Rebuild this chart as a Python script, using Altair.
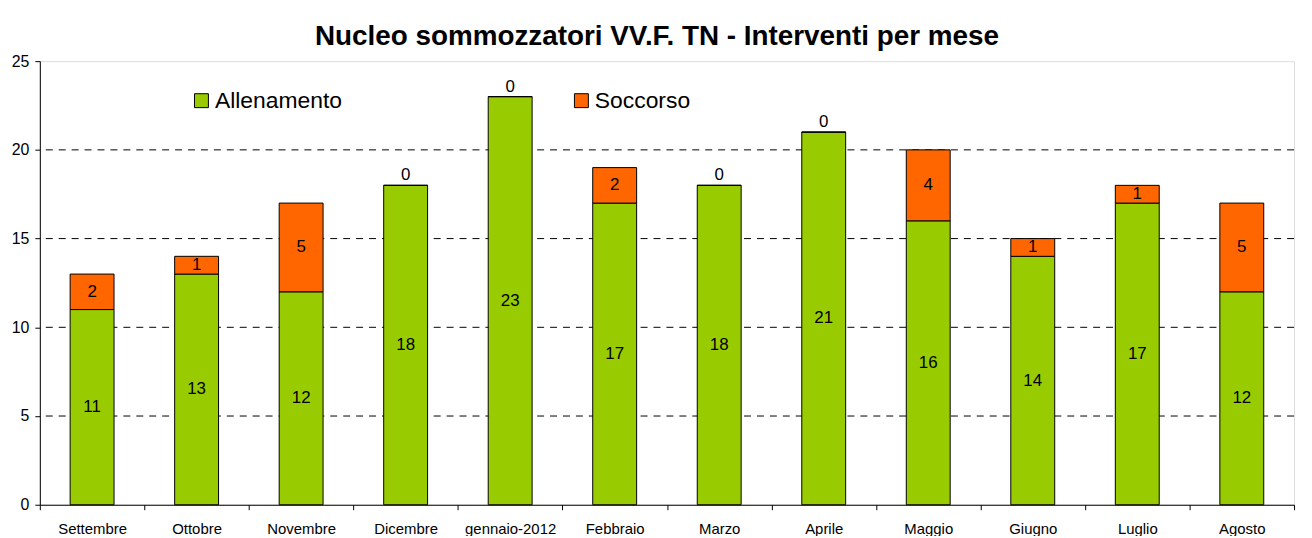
import altair as alt
import pandas as pd

mesi = ["Settembre", "Ottobre", "Novembre", "Dicembre", "gennaio-2012", "Febbraio",
        "Marzo", "Aprile", "Maggio", "Giugno", "Luglio", "Agosto"]
allenamento = [11, 13, 12, 18, 23, 17, 18, 21, 16, 14, 17, 12]
soccorso = [2, 1, 5, 0, 0, 2, 0, 0, 4, 1, 1, 5]
serie = ["Allenamento", "Soccorso"]
colori = ["#99CC00", "#FF6600"]
y_ticks = [0, 5, 10, 15, 20, 25]
grid_vals = [5, 10, 15, 20]

rows = []
for i, m in enumerate(mesi):
    rows.append({"mese": m, "serie": serie[0], "valore": allenamento[i], "ordine": 0})
    rows.append({"mese": m, "serie": serie[1], "valore": soccorso[i], "ordine": 1})
df = pd.DataFrame(rows)

FONT = "Liberation Sans"

yscale = alt.Scale(domain=[0, 25], nice=False, zero=True)
yaxis = alt.Axis(values=y_ticks, title=None, grid=False, tickSize=5, tickColor="black",
                 domainColor="black", labelFontSize=16, labelFont=FONT, labelColor="black",
                 labelPadding=6, format="d")
x_enc = alt.X("mese:N", sort=mesi, scale=alt.Scale(paddingInner=0, paddingOuter=0),
              axis=alt.Axis(title=None, labelAngle=0, labelFontSize=15, labelFont=FONT,
                            labelColor="black", tickBand="extent", tickSize=5,
                            tickColor="black", domainColor="black", labelPadding=12,
                            grid=False))

base = alt.Chart(df).transform_stack(
    stack="valore", groupby=["mese"], as_=["y0", "y1"],
    sort=[alt.SortField("ordine", order="ascending")]
).transform_calculate(mid="(datum.y0 + datum.y1) / 2")

bars = base.mark_bar(width=alt.RelativeBandSize(0.42), stroke="black", strokeWidth=1).encode(
    x=x_enc,
    y=alt.Y("y1:Q", scale=yscale, axis=yaxis),
    y2="y0:Q",
    color=alt.Color("serie:N", scale=alt.Scale(domain=serie, range=colori),
                    legend=alt.Legend(title=None, orient="none", legendX=151, legendY=28,
                                      direction="horizontal", columns=2, columnPadding=229,
                                      symbolType="square", symbolSize=196,
                                      symbolStrokeColor="black", symbolStrokeWidth=1,
                                      labelFontSize=23, labelFont=FONT, labelColor="black",
                                      labelOffset=2, labelLimit=400, padding=0)),
    order=alt.Order("ordine:Q"),
)

txt_kw = dict(fontSize=17, font=FONT, color="black")
t_all = base.transform_filter("datum.serie == 'Allenamento'").mark_text(**txt_kw).encode(
    x=x_enc, y=alt.Y("mid:Q", scale=yscale, axis=yaxis), text="valore:Q")
t_socc = base.transform_filter("datum.serie == 'Soccorso' && datum.valore > 0").mark_text(**txt_kw).encode(
    x=x_enc, y=alt.Y("mid:Q", scale=yscale, axis=yaxis), text="valore:Q")
t_zero = base.transform_filter("datum.serie == 'Soccorso' && datum.valore == 0").mark_text(dy=-10, **txt_kw).encode(
    x=x_enc, y=alt.Y("y1:Q", scale=yscale, axis=yaxis), text="valore:Q")

grid = alt.Chart(pd.DataFrame({"g": grid_vals})).mark_rule(
    color="black", strokeDash=[7, 6], strokeWidth=1
).encode(y=alt.Y("g:Q", scale=yscale, axis=yaxis))

chart = alt.layer(grid, bars, t_all, t_socc, t_zero).properties(
    width=1261, height=446,
    autosize=alt.AutoSizeParams(type="none"),
    padding={"left": 32, "top": 52, "right": 10, "bottom": 30},
    title=alt.TitleParams("Nucleo sommozzatori VV.F. TN - Interventi per mese",
                          fontSize=28, font=FONT, fontWeight="bold", anchor="middle",
                          dx=-10, dy=30, offset=10, baseline="alphabetic", color="black"),
).configure_view(stroke="#888888", strokeWidth=1).configure(background="white")

chart.save("out.html", embed_options={"renderer": "svg", "actions": False})
